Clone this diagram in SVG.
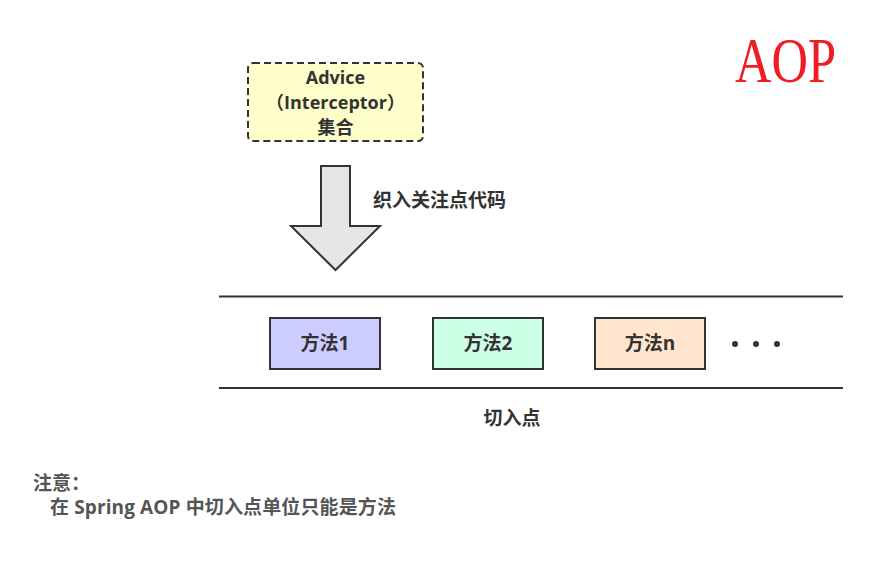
<svg xmlns="http://www.w3.org/2000/svg" width="894" height="581" viewBox="0 0 894 581">
<style>
.t{font-family:"Open Sans","Noto Sans CJK SC",sans-serif;font-weight:bold;font-size:19px;fill:#333;}
.s{font-size:18px;}
.box{stroke:#333;stroke-width:2;}
.ln{stroke:#333;stroke-width:2;fill:none;}
</style>
<rect width="894" height="581" fill="#fff"/>
<g id="aop-title">
<text x="735" y="82" font-family="Liberation Serif,serif" font-size="63" fill="#ee1c25" textLength="101" lengthAdjust="spacingAndGlyphs">AOP</text>
</g>
<g id="advice">
<rect x="248" y="63" width="175" height="78" rx="5" fill="#ffffcc" stroke="#333" stroke-width="2" stroke-dasharray="7,4"/>
<text class="t s" x="335.5" y="83.5" text-anchor="middle">Advice</text>
<text class="t s" x="335.5" y="108.5" text-anchor="middle">（Interceptor）</text>
<text class="t s" x="335.5" y="133.5" text-anchor="middle">集合</text>
</g>
<g id="weave-arrow">
<polygon points="321,166 350,166 350,226 380,226 335.5,270 291,226 321,226" fill="#e6e6e6" stroke="#333" stroke-width="2" stroke-linejoin="miter"/>
<text class="t" x="373" y="207">织入关注点代码</text>
</g>
<g id="connectors">
<line class="ln" x1="219" y1="296.5" x2="843" y2="296.5"/>
<line class="ln" x1="219" y1="388" x2="843" y2="388"/>
</g>
<g id="m1">
<rect class="box" x="270" y="318" width="110" height="51" fill="#ccccff"/>
<text class="t" x="325" y="350" text-anchor="middle">方法1</text>
</g>
<g id="m2">
<rect class="box" x="433" y="318" width="110" height="51" fill="#ccffe6"/>
<text class="t" x="488" y="350" text-anchor="middle">方法2</text>
</g>
<g id="mn">
<rect class="box" x="595" y="318" width="110" height="51" fill="#ffe6cc"/>
<text class="t" x="650" y="350" text-anchor="middle">方法n</text>
</g>
<g id="dots" fill="#333">
<circle cx="735" cy="344" r="3"/>
<circle cx="756" cy="344" r="3"/>
<circle cx="777" cy="344" r="3"/>
</g>
<g id="pointcut-label">
<text class="t" x="512" y="425" text-anchor="middle">切入点</text>
</g>
<g id="note">
<text class="t" x="33" y="490" style="fill:#555">注意：</text>
<text class="t" x="50" y="514" style="fill:#555" textLength="346" lengthAdjust="spacing">在 Spring AOP 中切入点单位只能是方法</text>
</g>
</svg>
